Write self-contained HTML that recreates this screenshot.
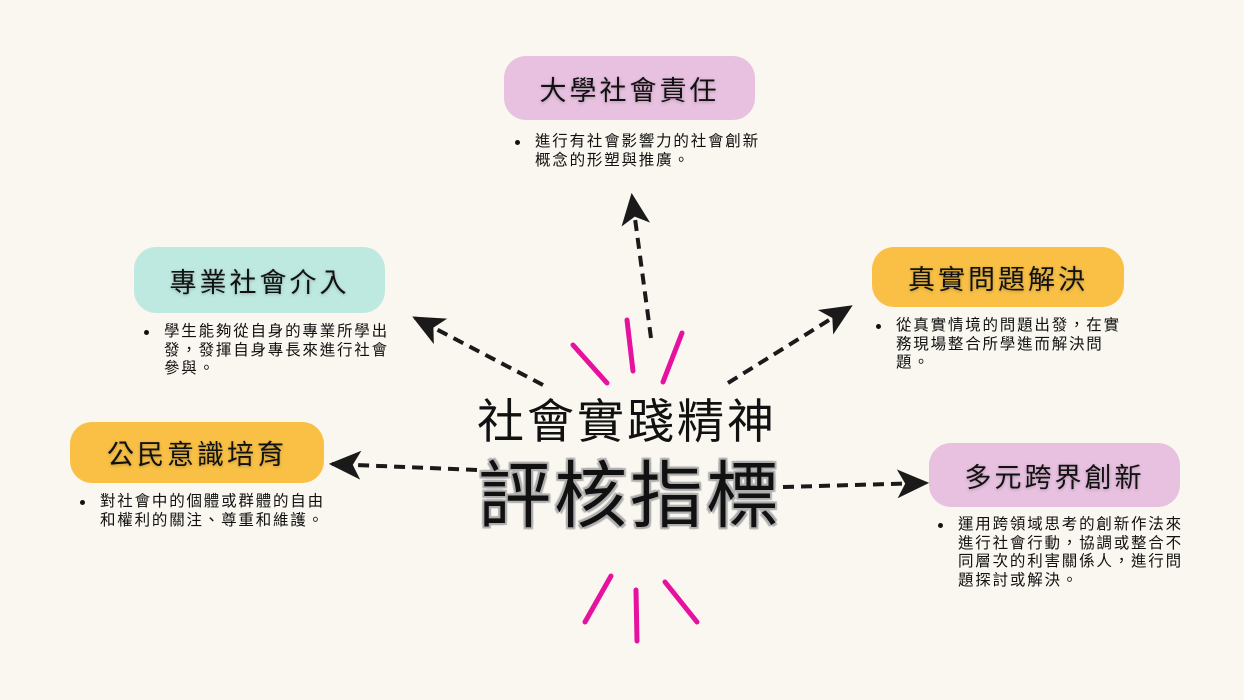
<!DOCTYPE html>
<html><head><meta charset="utf-8"><style>
body{margin:0;width:1244px;height:700px;background:#faf7f0;position:relative;overflow:hidden;font-family:"Liberation Sans","Noto Sans CJK TC",sans-serif;color:#111}
.box{position:absolute;border-radius:22px;display:flex;align-items:center;justify-content:center;font-size:27px;letter-spacing:3px;text-shadow:0 1px 3px rgba(0,0,0,.25)}
.t{position:absolute;font-size:15.5px;line-height:18.5px;letter-spacing:1.8px;white-space:nowrap}
.t:before{content:"";position:absolute;left:-20px;top:7px;width:5px;height:5px;border-radius:50%;background:#111}
</style></head><body>
<svg width="1244" height="700" style="position:absolute;left:0;top:0">
<defs><marker id="a" viewBox="0 0 20 20" refX="18" refY="10" markerWidth="32" markerHeight="32" markerUnits="userSpaceOnUse" orient="auto"><path d="M0,1 L20,10 L0,19 L5,10 Z" fill="#1a1a1a"/></marker></defs>
<g stroke="#1a1a1a" stroke-width="4" stroke-dasharray="11,7" fill="none" marker-end="url(#a)">
<line x1="651" y1="338" x2="632" y2="196"/>
<line x1="543" y1="385" x2="415" y2="318"/>
<line x1="728" y1="383" x2="850" y2="307"/>
<line x1="477" y1="470" x2="332" y2="464"/>
<line x1="783" y1="487" x2="926" y2="483"/>
</g>
<g stroke="#e6119f" stroke-width="5" stroke-linecap="round">
<line x1="573" y1="345" x2="607" y2="383"/>
<line x1="627" y1="320" x2="633" y2="371"/>
<line x1="682" y1="333" x2="663" y2="382"/>
<line x1="611" y1="576" x2="585" y2="622"/>
<line x1="636" y1="590" x2="637" y2="641"/>
<line x1="665" y1="582" x2="697" y2="622"/>
</g>
</svg>
<div class="box" style="left:504px;top:56px;width:251px;height:64px;background:#e8c0e0">大學社會責任</div>
<div class="box" style="left:134px;top:247px;width:251px;height:66px;background:#bde9e0">專業社會介入</div>
<div class="box" style="left:70px;top:422px;width:254px;height:61px;background:#f9c045">公民意識培育</div>
<div class="box" style="left:872px;top:247px;width:252px;height:60px;background:#f9c045">真實問題解決</div>
<div class="box" style="left:929px;top:443px;width:251px;height:64px;background:#e8c0e0">多元跨界創新</div>
<div class="t" style="left:535px;top:133px">進行有社會影響力的社會創新<br>概念的形塑與推廣。</div>
<div class="t" style="left:164px;top:323px">學生能夠從自身的專業所學出<br>發，發揮自身專長來進行社會<br>參與。</div>
<div class="t" style="left:100px;top:493px">對社會中的個體或群體的自由<br>和權利的關注、尊重和維護。</div>
<div class="t" style="left:896px;top:317px">從真實情境的問題出發，在實<br>務現場整合所學進而解決問<br>題。</div>
<div class="t" style="left:958px;top:516px">運用跨領域思考的創新作法來<br>進行社會行動，協調或整合不<br>同層次的利害關係人，進行問<br>題探討或解決。</div>
<div style="position:absolute;left:477px;top:392px;font-size:47px;letter-spacing:3px;line-height:60px;white-space:nowrap">社會實踐精神</div>
<div style="position:absolute;left:478px;top:453px;font-size:73px;letter-spacing:3px;line-height:88px;white-space:nowrap;text-shadow:0 0 2px #aaa,0 0 2px #aaa,2px 2px 1px #b0b0b0,-2px -2px 1px #b0b0b0,2px -2px 1px #b0b0b0,-2px 2px 1px #b0b0b0">評核指標</div>
</body></html>
